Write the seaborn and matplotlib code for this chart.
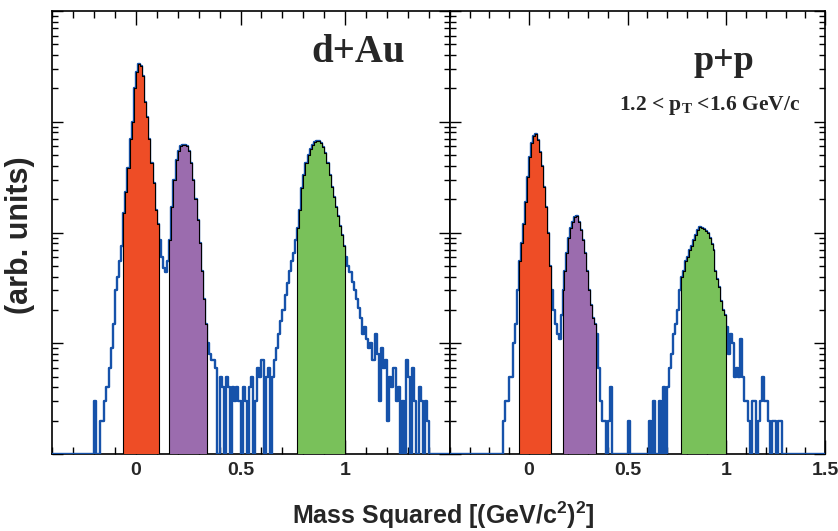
import numpy as np
import pandas as pd
import matplotlib
matplotlib.use("Agg")
import matplotlib.pyplot as plt
import seaborn as sns
from matplotlib.ticker import MultipleLocator, LogLocator, NullFormatter, FixedLocator, FixedFormatter

sns.set_style("ticks")
plt.rcParams["font.family"] = ["Liberation Sans", "DejaVu Sans"]
plt.rcParams["mathtext.fontset"] = "custom"
plt.rcParams["mathtext.rm"] = "Liberation Sans:bold"
plt.rcParams["mathtext.bf"] = "Liberation Serif:bold"

# mass-squared bins, 0.01 wide, from -0.4 to 1.5
mass_edges = np.round(np.arange(-0.40, 1.505, 0.01), 2)

# d+Au counts (arb. units), one row per 0.1 in m^2
dau_counts = [
    0, 0, 0, 0, 0, 0, 0, 0, 0, 0,
    0, 0, 0, 0, 0, 0, 0, 0, 0, 0,
    3, 0, 0, 2, 2, 3, 4, 6, 9, 15,
    30, 40, 55, 75, 150, 230, 380, 700, 1000, 2000,
    2800, 3300, 3200, 2600, 1500, 1100, 700, 420, 280, 160,
    120, 85, 60, 48, 44, 55, 85, 170, 300, 450,
    540, 600, 620, 620, 600, 540, 420, 300, 200, 130,
    80, 45, 25, 15, 10, 8, 7, 7, 6, 0,
    5, 4, 0, 5, 4, 0, 4, 3, 4, 3,
    0, 4, 3, 0, 4, 5, 0, 3, 6, 5,
    7, 0, 5, 6, 0, 5, 7, 9, 12, 16,
    20, 27, 35, 45, 55, 65, 85, 110, 160, 250,
    330, 420, 500, 570, 620, 650, 665, 665, 640, 590,
    520, 420, 330, 260, 210, 170, 140, 115, 95, 75,
    60, 50, 44, 36, 30, 25, 21, 17, 12, 14,
    11, 9, 10, 7, 12, 8, 3, 9, 6, 7,
    2, 5, 4, 6, 3, 4, 0, 3, 0, 7,
    5, 0, 6, 3, 0, 4, 3, 0, 3, 2,
    0, 0, 0, 0, 0, 0, 0, 0, 0, 0,
]

# p+p counts (arb. units)
pp_counts = [
    0, 0, 0, 0, 0, 0, 0, 0, 0, 0,
    0, 0, 0, 0, 0, 0, 0, 0, 0, 0,
    0, 0, 0, 0, 0, 0, 0, 2, 3, 3,
    5, 5, 10, 15, 30, 55, 80, 120, 190, 320,
    480, 640, 740, 770, 680, 530, 400, 260, 170, 100,
    50, 30, 20, 15, 12, 11, 18, 30, 45, 65,
    90, 110, 125, 138, 140, 125, 105, 85, 65, 45,
    30, 22, 17, 15, 12, 6, 3, 2, 2, 0,
    2, 4, 0, 0, 0, 0, 0, 0, 0, 0,
    2, 0, 0, 0, 0, 0, 0, 0, 0, 0,
    0, 2, 0, 3, 0, 0, 3, 0, 4, 0,
    4, 6, 8, 12, 15, 20, 30, 40, 45, 55,
    60, 70, 75, 85, 95, 105, 112, 110, 108, 104,
    100, 90, 78, 70, 45, 38, 32, 24, 20, 18,
    14, 8, 12, 10, 5, 6, 5, 11, 5, 3,
    3, 2, 0, 3, 3, 0, 2, 3, 5, 3,
    3, 2, 0, 2, 2, 0, 2, 2, 0, 0,
    0, 0, 0, 0, 0, 0, 0, 0, 0, 0,
    0, 0, 0, 0, 0, 0, 0, 0, 0, 0,
]

# m^2 cut windows for pi, K, p
dau_cuts = [(-0.06, 0.11), (0.16, 0.34), (0.77, 1.00)]
pp_cuts = [(-0.05, 0.11), (0.17, 0.34), (0.77, 1.00)]

dau_ticks = [0, 0.5, 1]
pp_ticks = [0, 0.5, 1, 1.5]

LINE_BLUE = "#1652aa"
FILL_COLORS = ["#ee4d26", "#9b6cae", "#79c15a"]

centers = np.round((mass_edges[:-1] + mass_edges[1:]) / 2, 3)


def draw_panel(ax, counts, cuts, ticks):
    counts = np.asarray(counts, dtype=float)
    df = pd.DataFrame({"m2": centers, "n": counts})
    # empty bins sit on the lower frame edge
    df["shown"] = df["n"].where(df["n"] > 0, 1.0)
    sns.histplot(data=df, x="m2", weights="shown", bins=mass_edges.tolist(),
                 element="step", fill=False, color=LINE_BLUE, linewidth=1.7,
                 zorder=3, ax=ax)
    for (lo, hi), col in zip(cuts, FILL_COLORS):
        sub = df[(df["m2"] > lo) & (df["m2"] < hi)]
        sub_edges = [e for e in mass_edges.tolist() if lo - 1e-9 <= e <= hi + 1e-9]
        sns.histplot(data=sub, x="m2", weights="n", bins=sub_edges,
                     element="step", fill=True, color=col, alpha=1,
                     edgecolor="black", linewidth=0.8, zorder=4, ax=ax)

    ax.set_yscale("log")
    ax.set_ylim(1, 1e4)
    ax.set_xlim(-0.4, 1.5)
    ax.set_xlabel("")
    ax.set_ylabel("")

    ax.xaxis.set_major_locator(FixedLocator(ticks))
    ax.xaxis.set_major_formatter(FixedFormatter([f"{t:g}" for t in ticks]))
    ax.xaxis.set_minor_locator(MultipleLocator(0.1))
    ax.yaxis.set_major_locator(LogLocator(base=10))
    ax.yaxis.set_minor_locator(LogLocator(base=10, subs=np.arange(2, 10)))
    ax.yaxis.set_major_formatter(NullFormatter())
    ax.yaxis.set_minor_formatter(NullFormatter())

    ax.tick_params(which="both", direction="in", top=True, bottom=True,
                   left=True, right=True, color="black", width=1.0)
    ax.tick_params(axis="x", which="major", length=10, pad=6, labelsize=14)
    ax.tick_params(axis="x", which="minor", length=5)
    ax.tick_params(axis="y", which="major", length=8)
    ax.tick_params(axis="y", which="minor", length=4)
    for lab in ax.get_xticklabels():
        lab.set_fontweight("bold")
    for sp in ax.spines.values():
        sp.set_visible(True)
        sp.set_color("black")
        sp.set_linewidth(1.2)


fig = plt.figure(figsize=(8.38, 5.31), dpi=100)
ax_dau = fig.add_axes([52 / 838, 77 / 531, 398 / 838, 443 / 531])
ax_pp = fig.add_axes([450 / 838, 77 / 531, 375 / 838, 443 / 531])

draw_panel(ax_dau, dau_counts, dau_cuts, dau_ticks)
draw_panel(ax_pp, pp_counts, pp_cuts, pp_ticks)

serif = ["Liberation Serif", "DejaVu Serif"]
fig.text(405 / 838, 1 - 62 / 531, "d+Au", ha="right", va="baseline",
         fontsize=28, fontweight="bold", family=serif)
fig.text(724 / 838, 1 - 70 / 531, "p+p", ha="center", va="baseline",
         fontsize=26, fontweight="bold", family=serif)
fig.text(800 / 838, 1 - 110 / 531, r"1.2 < $\mathbf{p_T}$ <1.6 GeV/c",
         ha="right", va="baseline", fontsize=15.5, fontweight="bold", family=serif)

fig.text(20 / 838, 1 - 235 / 531, "(arb. units)", rotation=90,
         ha="center", va="center", fontsize=22, fontweight="bold")
fig.text(443 / 838, 1 - 515 / 531,
         r"Mass Squared [(GeV/c$^{\mathrm{2}}$)$^{\mathrm{2}}$]",
         ha="center", va="center", fontsize=18, fontweight="bold")

fig.savefig("out.png", dpi=100)
